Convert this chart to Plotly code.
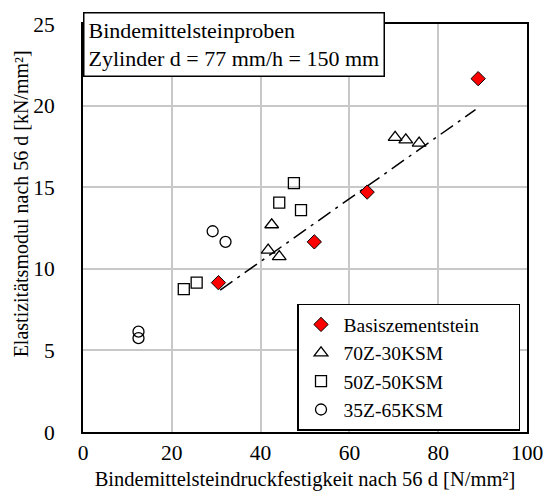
import plotly.graph_objects as go

# Measured values: compressive strength [N/mm²] vs. elastic modulus [kN/mm²] after 56 d
basis_x = [89.0, 64.0, 52.1, 30.5]
basis_y = [21.65, 14.7, 11.65, 9.15]

z70_x = [70.3, 72.7, 75.7, 42.5, 41.7, 44.2]
z70_y = [18.05, 17.9, 17.7, 12.7, 11.15, 10.75]

z50_x = [47.5, 44.2, 49.1, 25.6, 22.7]
z50_y = [15.25, 14.05, 13.6, 9.15, 8.75]

z35_x = [29.2, 32.1, 12.5, 12.5]
z35_y = [12.3, 11.65, 6.15, 5.75]

# Linear trend for the base cement stone
trend_x = [30.9, 88.4]
trend_y = [8.7, 19.75]

x_ticks = [0, 20, 40, 60, 80, 100]
y_ticks = [0, 5, 10, 15, 20, 25]

series_names = ["Basiszementstein", "70Z-30KSM", "50Z-50KSM", "35Z-65KSM"]

FONT = "Liberation Serif, Times New Roman, serif"
# trailing spacing keeps the legend box wide with free room on the right
PAD = "\u00a0" * 7

fig = go.Figure()

fig.add_trace(go.Scatter(
    x=trend_x, y=trend_y, mode="lines",
    line=dict(color="black", width=1.5, dash="longdashdot"),
    showlegend=False, hoverinfo="skip"))

fig.add_trace(go.Scatter(
    x=basis_x, y=basis_y, mode="markers", name=series_names[0] + PAD,
    marker=dict(symbol="diamond", size=11, color="#ff0000",
                line=dict(color="black", width=1))))
fig.add_trace(go.Scatter(
    x=z70_x, y=z70_y, mode="markers", name=series_names[1],
    marker=dict(symbol="triangle-up-open", size=12, color="black",
                line=dict(color="black", width=1.3))))
fig.add_trace(go.Scatter(
    x=z50_x, y=z50_y, mode="markers", name=series_names[2],
    marker=dict(symbol="square-open", size=11, color="black",
                line=dict(color="black", width=1.3))))
fig.add_trace(go.Scatter(
    x=z35_x, y=z35_y, mode="markers", name=series_names[3],
    marker=dict(symbol="circle-open", size=11, color="black",
                line=dict(color="black", width=1.3))))

# Sample description box in the upper left corner
fig.add_annotation(
    xref="paper", yref="paper", x=0, y=1.03, xanchor="left", yanchor="top",
    text="Bindemittelsteinproben<br>Zylinder d = 77 mm/h = 150 mm",
    align="left", showarrow=False,
    font=dict(family=FONT, size=22, color="black"),
    bgcolor="white", bordercolor="black", borderwidth=1.5, borderpad=4)

# Y-axis title, placed slightly above the axis centre
fig.add_annotation(
    xref="paper", yref="paper", x=-0.14, y=0.56, xanchor="center",
    yanchor="middle", textangle=-90, showarrow=False,
    text="Elastizitätsmodul nach 56 d [kN/mm²]",
    font=dict(family=FONT, size=20, color="black"))

fig.update_layout(
    width=545, height=496,
    margin=dict(l=83, r=18, t=24, b=64, autoexpand=False),
    paper_bgcolor="white", plot_bgcolor="white",
    font=dict(family=FONT, size=20, color="black"),
    legend=dict(x=0.482, y=0.003, xanchor="left", yanchor="bottom",
                bgcolor="white", bordercolor="black", borderwidth=1.5,
                font=dict(family=FONT, size=19.5, color="black"),
                tracegroupgap=0, itemwidth=35),
)

fig.update_xaxes(
    range=[0, 100], tickvals=x_ticks, showgrid=True, gridcolor="#c8c8c8",
    gridwidth=1.5, zeroline=False, showline=True, linecolor="black",
    linewidth=2, mirror=True, ticks="", automargin=False,
    tickfont=dict(family=FONT, size=21.5, color="black"),
    title=dict(text="Bindemittelsteindruckfestigkeit nach 56 d [N/mm²]",
               font=dict(family=FONT, size=20.5, color="black"), standoff=8))
fig.update_yaxes(
    range=[0, 25], tickvals=y_ticks, showgrid=True, gridcolor="#c8c8c8",
    gridwidth=1.5, zeroline=False, showline=True, linecolor="black",
    linewidth=2, mirror=True, ticks="", automargin=False,
    ticklabelstandoff=22,
    tickfont=dict(family=FONT, size=21.5, color="black"))

fig.write_html("out.html")
